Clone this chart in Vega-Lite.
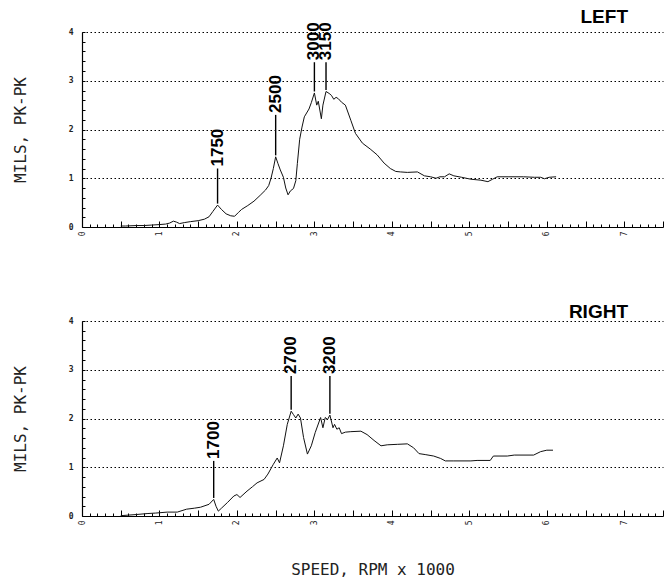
{
  "$schema": "https://vega.github.io/schema/vega-lite/v6.json",
  "background": "white",
  "padding": {"left": 12, "top": 8, "right": 2, "bottom": 0},
  "spacing": 67,
  "config": {
    "view": {"stroke": null},
    "axis": {"domainColor": "black", "domainWidth": 1.2, "tickColor": "black", "tickWidth": 1, "labelColor": "#222", "titleColor": "#222"},
    "title": {"font": "Liberation Sans", "fontWeight": "bold", "fontSize": 19, "color": "black", "anchor": "end", "frame": "group", "dx": -35, "offset": -5}
  },
  "datasets": {
    "left": [
      {"rpm": 0.50, "mils": 0.02}, {"rpm": 0.56, "mils": 0.02}, {"rpm": 0.70, "mils": 0.03}, {"rpm": 0.80, "mils": 0.03},
      {"rpm": 0.90, "mils": 0.04}, {"rpm": 1.00, "mils": 0.05}, {"rpm": 1.08, "mils": 0.06}, {"rpm": 1.13, "mils": 0.08},
      {"rpm": 1.18, "mils": 0.12}, {"rpm": 1.22, "mils": 0.10}, {"rpm": 1.26, "mils": 0.07}, {"rpm": 1.32, "mils": 0.09},
      {"rpm": 1.40, "mils": 0.11}, {"rpm": 1.50, "mils": 0.13}, {"rpm": 1.58, "mils": 0.16}, {"rpm": 1.64, "mils": 0.21},
      {"rpm": 1.69, "mils": 0.32}, {"rpm": 1.75, "mils": 0.45}, {"rpm": 1.80, "mils": 0.36}, {"rpm": 1.86, "mils": 0.27},
      {"rpm": 1.92, "mils": 0.23}, {"rpm": 1.97, "mils": 0.22}, {"rpm": 2.02, "mils": 0.30}, {"rpm": 2.06, "mils": 0.36},
      {"rpm": 2.14, "mils": 0.44}, {"rpm": 2.22, "mils": 0.53}, {"rpm": 2.30, "mils": 0.65}, {"rpm": 2.37, "mils": 0.76},
      {"rpm": 2.41, "mils": 0.85}, {"rpm": 2.44, "mils": 1.00}, {"rpm": 2.47, "mils": 1.20}, {"rpm": 2.50, "mils": 1.44},
      {"rpm": 2.53, "mils": 1.30}, {"rpm": 2.56, "mils": 1.17}, {"rpm": 2.60, "mils": 1.02}, {"rpm": 2.63, "mils": 0.80},
      {"rpm": 2.66, "mils": 0.66}, {"rpm": 2.69, "mils": 0.74}, {"rpm": 2.73, "mils": 0.79}, {"rpm": 2.76, "mils": 0.95},
      {"rpm": 2.78, "mils": 1.30}, {"rpm": 2.81, "mils": 1.80}, {"rpm": 2.84, "mils": 2.05}, {"rpm": 2.87, "mils": 2.26},
      {"rpm": 2.93, "mils": 2.42}, {"rpm": 2.96, "mils": 2.55}, {"rpm": 3.00, "mils": 2.75}, {"rpm": 3.03, "mils": 2.50},
      {"rpm": 3.05, "mils": 2.58}, {"rpm": 3.07, "mils": 2.40}, {"rpm": 3.09, "mils": 2.22}, {"rpm": 3.11, "mils": 2.50},
      {"rpm": 3.15, "mils": 2.78}, {"rpm": 3.19, "mils": 2.74}, {"rpm": 3.22, "mils": 2.70}, {"rpm": 3.25, "mils": 2.62},
      {"rpm": 3.28, "mils": 2.66}, {"rpm": 3.31, "mils": 2.63}, {"rpm": 3.35, "mils": 2.56}, {"rpm": 3.40, "mils": 2.50},
      {"rpm": 3.47, "mils": 2.19}, {"rpm": 3.53, "mils": 1.92}, {"rpm": 3.62, "mils": 1.72}, {"rpm": 3.72, "mils": 1.60},
      {"rpm": 3.81, "mils": 1.48}, {"rpm": 3.90, "mils": 1.31}, {"rpm": 3.98, "mils": 1.20}, {"rpm": 4.05, "mils": 1.14},
      {"rpm": 4.11, "mils": 1.13}, {"rpm": 4.20, "mils": 1.12}, {"rpm": 4.33, "mils": 1.13}, {"rpm": 4.42, "mils": 1.05},
      {"rpm": 4.50, "mils": 1.03}, {"rpm": 4.57, "mils": 1.00}, {"rpm": 4.62, "mils": 1.03}, {"rpm": 4.68, "mils": 1.03},
      {"rpm": 4.74, "mils": 1.09}, {"rpm": 4.80, "mils": 1.05}, {"rpm": 4.90, "mils": 1.02}, {"rpm": 5.02, "mils": 0.98},
      {"rpm": 5.15, "mils": 0.96}, {"rpm": 5.24, "mils": 0.93}, {"rpm": 5.30, "mils": 0.98}, {"rpm": 5.36, "mils": 1.03},
      {"rpm": 5.50, "mils": 1.03}, {"rpm": 5.70, "mils": 1.03}, {"rpm": 5.84, "mils": 1.02}, {"rpm": 5.92, "mils": 1.02},
      {"rpm": 5.97, "mils": 0.99}, {"rpm": 6.03, "mils": 1.02}, {"rpm": 6.12, "mils": 1.03}
    ],
    "right": [
      {"rpm": 0.50, "mils": 0.01}, {"rpm": 0.53, "mils": 0.01}, {"rpm": 0.70, "mils": 0.03}, {"rpm": 0.84, "mils": 0.05},
      {"rpm": 0.95, "mils": 0.06}, {"rpm": 1.10, "mils": 0.08}, {"rpm": 1.23, "mils": 0.08}, {"rpm": 1.35, "mils": 0.14},
      {"rpm": 1.45, "mils": 0.16}, {"rpm": 1.53, "mils": 0.18}, {"rpm": 1.64, "mils": 0.24}, {"rpm": 1.70, "mils": 0.34},
      {"rpm": 1.73, "mils": 0.20}, {"rpm": 1.76, "mils": 0.10}, {"rpm": 1.80, "mils": 0.16}, {"rpm": 1.88, "mils": 0.28},
      {"rpm": 1.96, "mils": 0.41}, {"rpm": 2.00, "mils": 0.44}, {"rpm": 2.04, "mils": 0.38}, {"rpm": 2.13, "mils": 0.51},
      {"rpm": 2.20, "mils": 0.60}, {"rpm": 2.26, "mils": 0.68}, {"rpm": 2.35, "mils": 0.75}, {"rpm": 2.40, "mils": 0.86},
      {"rpm": 2.47, "mils": 1.06}, {"rpm": 2.52, "mils": 1.19}, {"rpm": 2.55, "mils": 1.09}, {"rpm": 2.60, "mils": 1.44},
      {"rpm": 2.65, "mils": 1.88}, {"rpm": 2.70, "mils": 2.15}, {"rpm": 2.73, "mils": 2.08}, {"rpm": 2.76, "mils": 2.01},
      {"rpm": 2.79, "mils": 2.09}, {"rpm": 2.82, "mils": 2.01}, {"rpm": 2.86, "mils": 1.61}, {"rpm": 2.91, "mils": 1.27},
      {"rpm": 2.96, "mils": 1.44}, {"rpm": 3.01, "mils": 1.71}, {"rpm": 3.08, "mils": 2.02}, {"rpm": 3.11, "mils": 1.81},
      {"rpm": 3.14, "mils": 2.02}, {"rpm": 3.17, "mils": 1.98}, {"rpm": 3.20, "mils": 2.07}, {"rpm": 3.24, "mils": 1.81},
      {"rpm": 3.26, "mils": 1.88}, {"rpm": 3.29, "mils": 1.78}, {"rpm": 3.32, "mils": 1.81}, {"rpm": 3.35, "mils": 1.69},
      {"rpm": 3.40, "mils": 1.72}, {"rpm": 3.47, "mils": 1.73}, {"rpm": 3.60, "mils": 1.74}, {"rpm": 3.68, "mils": 1.67},
      {"rpm": 3.77, "mils": 1.55}, {"rpm": 3.86, "mils": 1.44}, {"rpm": 3.94, "mils": 1.46}, {"rpm": 4.07, "mils": 1.47},
      {"rpm": 4.20, "mils": 1.48}, {"rpm": 4.28, "mils": 1.40}, {"rpm": 4.35, "mils": 1.28}, {"rpm": 4.43, "mils": 1.26},
      {"rpm": 4.54, "mils": 1.23}, {"rpm": 4.63, "mils": 1.18}, {"rpm": 4.69, "mils": 1.13}, {"rpm": 4.80, "mils": 1.13},
      {"rpm": 5.02, "mils": 1.13}, {"rpm": 5.10, "mils": 1.14}, {"rpm": 5.27, "mils": 1.14}, {"rpm": 5.31, "mils": 1.23},
      {"rpm": 5.49, "mils": 1.23}, {"rpm": 5.58, "mils": 1.25}, {"rpm": 5.83, "mils": 1.25}, {"rpm": 5.92, "mils": 1.32},
      {"rpm": 6.00, "mils": 1.35}, {"rpm": 6.08, "mils": 1.35}
    ],
    "leftPeaks": [
      {"rpm": 1.75, "mils": 1.20, "peak": 0.48, "label": "1750"},
      {"rpm": 2.50, "mils": 2.30, "peak": 1.47, "label": "2500"},
      {"rpm": 3.00, "mils": 3.38, "peak": 2.78, "label": "3000"},
      {"rpm": 3.15, "mils": 3.38, "peak": 2.81, "label": "3150"}
    ],
    "rightPeaks": [
      {"rpm": 1.70, "mils": 1.13, "peak": 0.37, "label": "1700"},
      {"rpm": 2.70, "mils": 2.87, "peak": 2.18, "label": "2700"},
      {"rpm": 3.20, "mils": 2.87, "peak": 2.10, "label": "3200"}
    ]
  },
  "vconcat": [
    {
      "width": 581,
      "height": 195,
      "title": {"text": "LEFT"},
      "encoding": {
        "x": {
          "field": "rpm", "type": "quantitative",
          "scale": {"domain": [0, 7.5], "nice": false},
          "axis": {
            "title": null, "tickCount": 75, "grid": false,
            "labelExpr": "datum.value % 1 === 0 ? format(datum.value, 'd') : ''",
            "labelAngle": -90, "labelFont": "DejaVu Sans Mono", "labelFontSize": 8, "labelPadding": 10,
            "labelOverlap": false, "labelFlush": false,
            "tickSize": {"condition": {"test": "round(datum.value * 10) % 5 === 0", "value": -6}, "value": -3}
          }
        },
        "y": {
          "field": "mils", "type": "quantitative",
          "scale": {"domain": [0, 4], "nice": false},
          "axis": {
            "title": "MILS, PK-PK", "titleFont": "DejaVu Sans Mono", "titleFontSize": 16, "titleFontWeight": "normal", "titlePadding": 40,
            "tickCount": 20, "tickSize": -3,
            "labelExpr": "datum.value % 1 === 0 ? format(datum.value, 'd') : ''",
            "labelFont": "DejaVu Sans Mono", "labelFontSize": 8, "labelFontWeight": "bold", "labelPadding": 12,
            "labelOverlap": false, "labelFlush": false,
            "grid": true, "gridColor": "black", "gridDash": [1.5, 2.5], "gridWidth": 1.2,
            "gridOpacity": {"condition": {"test": "datum.value % 1 === 0 && datum.value > 0", "value": 1}, "value": 0}
          }
        }
      },
      "layer": [
        {"data": {"name": "left"}, "mark": {"type": "line", "color": "#111", "strokeWidth": 1}},
        {"data": {"name": "leftPeaks"}, "mark": {"type": "rule", "color": "black", "strokeWidth": 1.4},
         "encoding": {"y2": {"field": "peak"}}},
        {"data": {"name": "leftPeaks"},
         "mark": {"type": "text", "angle": -90, "align": "left", "baseline": "middle", "dx": 2,
                  "font": "Liberation Sans", "fontWeight": "bold", "fontSize": 17, "color": "black"},
         "encoding": {"text": {"field": "label"}}}
      ]
    },
    {
      "width": 581,
      "height": 195,
      "title": {"text": "RIGHT"},
      "encoding": {
        "x": {
          "field": "rpm", "type": "quantitative",
          "scale": {"domain": [0, 7.5], "nice": false},
          "axis": {
            "title": "SPEED, RPM x 1000", "titleFont": "DejaVu Sans Mono", "titleFontSize": 16, "titleFontWeight": "normal", "titlePadding": 37,
            "tickCount": 75, "grid": false,
            "labelExpr": "datum.value % 1 === 0 ? format(datum.value, 'd') : ''",
            "labelAngle": -90, "labelFont": "DejaVu Sans Mono", "labelFontSize": 8, "labelPadding": 10,
            "labelOverlap": false, "labelFlush": false,
            "tickSize": {"condition": {"test": "round(datum.value * 10) % 5 === 0", "value": -6}, "value": -3}
          }
        },
        "y": {
          "field": "mils", "type": "quantitative",
          "scale": {"domain": [0, 4], "nice": false},
          "axis": {
            "title": "MILS, PK-PK", "titleFont": "DejaVu Sans Mono", "titleFontSize": 16, "titleFontWeight": "normal", "titlePadding": 40,
            "tickCount": 20, "tickSize": -3,
            "labelExpr": "datum.value % 1 === 0 ? format(datum.value, 'd') : ''",
            "labelFont": "DejaVu Sans Mono", "labelFontSize": 8, "labelFontWeight": "bold", "labelPadding": 12,
            "labelOverlap": false, "labelFlush": false,
            "grid": true, "gridColor": "black", "gridDash": [1.5, 2.5], "gridWidth": 1.2,
            "gridOpacity": {"condition": {"test": "datum.value % 1 === 0 && datum.value > 0", "value": 1}, "value": 0}
          }
        }
      },
      "layer": [
        {"data": {"name": "right"}, "mark": {"type": "line", "color": "#111", "strokeWidth": 1}},
        {"data": {"name": "rightPeaks"}, "mark": {"type": "rule", "color": "black", "strokeWidth": 1.4},
         "encoding": {"y2": {"field": "peak"}}},
        {"data": {"name": "rightPeaks"},
         "mark": {"type": "text", "angle": -90, "align": "left", "baseline": "middle", "dx": 2,
                  "font": "Liberation Sans", "fontWeight": "bold", "fontSize": 17, "color": "black"},
         "encoding": {"text": {"field": "label"}}}
      ]
    }
  ]
}
